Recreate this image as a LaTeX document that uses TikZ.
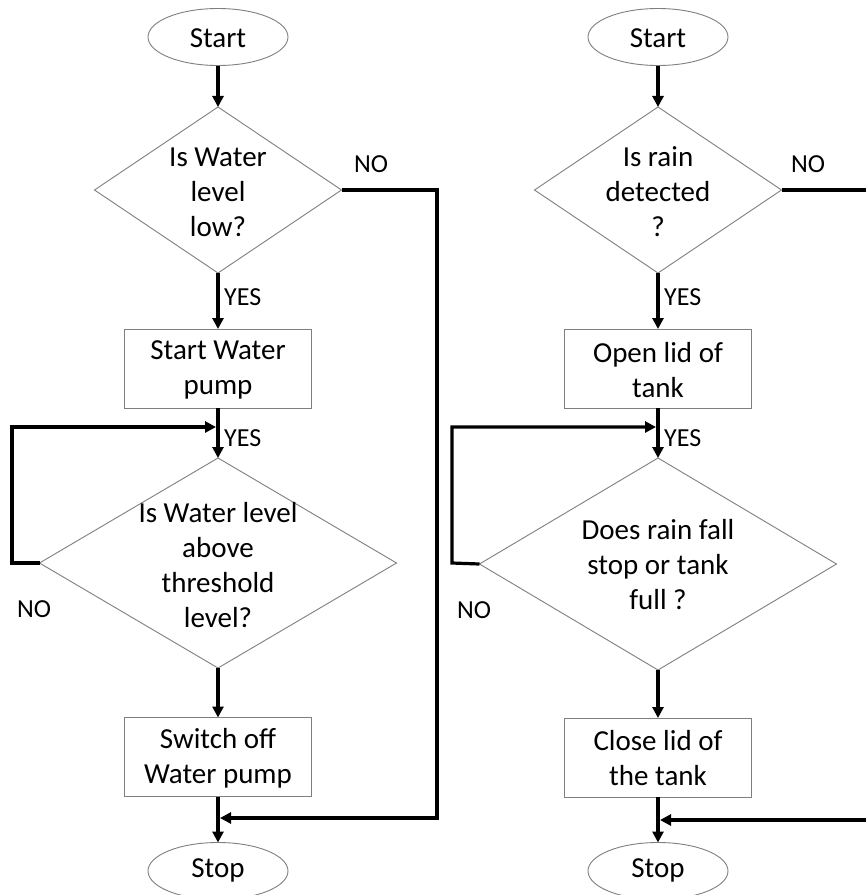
\documentclass[tikz,border=0pt]{standalone}
\usepackage{fontspec}
\setmainfont{Carlito}
\usetikzlibrary{shapes.geometric,arrows.meta,calc}
\definecolor{bordergray}{HTML}{7F7F7F}
\tikzset{
  base/.style={draw=bordergray, line width=0.9pt, outer sep=0pt, inner sep=0pt},
  term/.style={base, ellipse, minimum width=140pt, minimum height=57pt},
  dia/.style={base, diamond},
  proc/.style={base, rectangle, minimum width=187pt, minimum height=79pt},
  txt/.style={align=center, font=\fontsize{29}{35}\selectfont, inner sep=0pt},
  lab/.style={font=\fontsize{26}{30}\selectfont, inner sep=0pt},
  conn/.style={line width=3.2pt, -{Triangle[length=11pt,width=11pt]}},
  plain/.style={line width=3.2pt},
}
\begin{document}
\begin{tikzpicture}[x=1pt,y=-1pt]
\clip (0,0) rectangle (866,895);
\fill[white] (0,0) rectangle (866,895);
% ---------- left chart ----------
\node[term] (s1) at (218,37) {};
\node[txt] (s1t) at (218,38) {Start};
\node[dia, minimum width=247pt, minimum height=166pt] (d1) at (218,190) {};
\node[txt] (d1t) at (218,192) {Is Water\\level\\low?};
\node[proc] (b1) at (218,368.5) {};
\node[txt] (b1t) at (218,370) {Start Water\\pump};
\node[dia, minimum width=357pt, minimum height=210pt] (d2) at (218,563) {};
\node[txt] (d2t) at (218,565) {Is Water level\\above\\threshold\\level?};
\node[proc] (b2) at (218,757) {};
\node[txt] (b2t) at (218,758) {Switch off\\Water pump};
\node[term] (e1) at (218,871) {};
\node[txt] (e1t) at (218,870) {Stop};
\coordinate (j1) at (218,427);
\coordinate (k1) at (218,818);
\coordinate (r1) at (437,818);
\coordinate (l1) at (12,563);

\draw[conn] (s1) -- (d1);
\draw[conn] (d1) -- (b1);
\draw[conn] (b1) -- (d2);
\draw[conn] (d2) -- (b2);
\draw[conn] (b2) -- (e1);
\draw[conn] (d2.west) -- (l1) |- ([xshift=-2pt]j1);
\draw[conn] (d1.east) -| (r1) -- ([xshift=2pt]k1);

\node[lab, anchor=west] (y1) at (224,297) {YES};
\node[lab, anchor=west] (y2) at (224,438) {YES};
\node[lab] (n1) at (371,164) {NO};
\node[lab] (n2) at (34,609) {NO};

% ---------- right chart ----------
\node[term] (s2) at (658,37) {};
\node[txt] (s2t) at (658,38) {Start};
\node[dia, minimum width=247pt, minimum height=166pt] (d3) at (658,190) {};
\node[txt] (d3t) at (658,192) {Is rain\\detected\\?};
\node[proc] (b3) at (658,368.5) {};
\node[txt] (b3t) at (658,370) {Open lid of\\tank};
\node[dia, minimum width=357pt, minimum height=212pt] (d4) at (658,564) {};
\node[txt] (d4t) at (658,565) {Does rain fall\\stop or tank\\full ?};
\node[proc] (b4) at (658,757.5) {};
\node[txt] (b4t) at (658,758) {Close lid of\\the tank};
\node[term] (e2) at (658,871) {};
\node[txt] (e2t) at (658,870) {Stop};
\coordinate (j2) at (658,427);
\coordinate (k2) at (658,820);
\coordinate (r2) at (900,820);
\coordinate (l2) at (452,563);

\draw[conn] (s2) -- (d3);
\draw[conn] (d3) -- (b3);
\draw[conn] (b3) -- (d4);
\draw[conn] (d4) -- (b4);
\draw[conn] (b4) -- (e2);
\draw[conn] (d4.west) -- (l2) |- ([xshift=-2pt]j2);
\draw[conn] (d3.east) -| (r2) -- ([xshift=2pt]k2);

\node[lab, anchor=west] (y3) at (664,297) {YES};
\node[lab, anchor=west] (y4) at (664,438) {YES};
\node[lab] (n3) at (808,164) {NO};
\node[lab] (n4) at (474,610) {NO};
\end{tikzpicture}
\end{document}
